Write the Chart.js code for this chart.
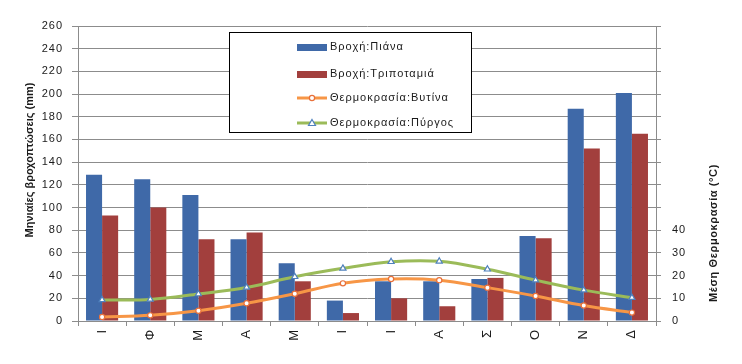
<!DOCTYPE html>
<html>
<head>
<meta charset="utf-8">
<script src="https://cdn.jsdelivr.net/npm/chart.js@4.4.0/dist/chart.umd.min.js"></script>
<style>
    html, body { margin: 0; padding: 0; background: #ffffff; }
    #wrap { width: 742px; height: 364px; position: relative; }
</style>
</head>
<body>
<div id="wrap"><canvas id="climateChart" width="742" height="364"></canvas></div>
<script>
// ==========================================
// DATA
// ==========================================

const monthLabels = ["Ι", "Φ", "Μ", "Α", "Μ", "Ι", "Ι", "Α", "Σ", "Ο", "Ν", "Δ"];

const rainPiana = [129, 125, 111, 72, 51, 18, 35, 35, 37, 75, 187, 201];

const rainTripotamia = [93, 100, 72, 78, 35, 7, 20, 13, 38, 73, 152, 165];

const tempVytina = [1.8, 2.5, 4.5, 7.8, 12.0, 16.6, 18.5, 18.0, 14.7, 11.0, 6.8, 3.7];

const tempPyrgos = [9.3, 9.5, 11.9, 14.8, 19.5, 23.2, 26.1, 26.3, 22.8, 18.0, 13.6, 10.3];

const seriesNames = ["Βροχή:Πιάνα", "Βροχή:Τριποταμιά", "Θερμοκρασία:Βυτίνα", "Θερμοκρασία:Πύργος"];

const FONT = "'Liberation Sans', Arial, sans-serif";

// ==========================================
// LETTER SPACING FOR TICK TEXT
// ==========================================

const spacedText = {

    id: "spacedText",

    beforeLayout(chart) {
        chart.ctx.letterSpacing = "1px";
    },

    beforeDraw(chart) {
        chart.ctx.letterSpacing = "1px";
    }

};

// ==========================================
// LEGEND + AXIS TITLES PLUGIN
// ==========================================

const boxLegend = {

    id: "boxLegend",

    afterDraw(chart) {

        const ctx = chart.ctx;

        ctx.save();

        // legend frame
        ctx.fillStyle = "#ffffff";
        ctx.fillRect(230, 33, 242, 100);
        ctx.strokeStyle = "#000000";
        ctx.lineWidth = 1;
        ctx.strokeRect(229.5, 32.5, 242, 100);

        const rows = [47, 74, 98, 123];

        ctx.font = "11px " + FONT;
        ctx.letterSpacing = "1px";
        ctx.textBaseline = "middle";
        ctx.textAlign = "left";

        chart.data.datasets.forEach(function (ds, i) {

            const y = rows[i];

            if (ds.type === "line") {

                ctx.strokeStyle = ds.borderColor;
                ctx.lineWidth = 3;
                ctx.beginPath();
                ctx.moveTo(297, y);
                ctx.lineTo(327, y);
                ctx.stroke();

                ctx.fillStyle = "#ffffff";
                ctx.strokeStyle = ds.pointBorderColor;
                ctx.lineWidth = 1.2;
                ctx.beginPath();

                if (ds.pointStyle === "triangle") {
                    ctx.moveTo(312, y - 3.5);
                    ctx.lineTo(315.5, y + 2.5);
                    ctx.lineTo(308.5, y + 2.5);
                    ctx.closePath();
                } else {
                    ctx.arc(312, y, 2.6, 0, Math.PI * 2);
                }

                ctx.fill();
                ctx.stroke();

            } else {

                ctx.fillStyle = ds.backgroundColor;
                ctx.fillRect(297, y - 3, 30, 7);

            }

            ctx.fillStyle = "#1a1a1a";
            ctx.fillText(ds.label, 330, y);

        });

        // axis titles
        ctx.font = "bold 11px " + FONT;
        ctx.fillStyle = "#1a1a1a";
        ctx.textAlign = "center";

        ctx.save();
        ctx.letterSpacing = "0px";
        ctx.translate(30, 160);
        ctx.rotate(-Math.PI / 2);
        ctx.fillText("Μηνιαίες βροχοπτώσεις (mm)", 0, 0);
        ctx.restore();

        ctx.save();
        ctx.letterSpacing = "0.6px";
        ctx.translate(714, 233);
        ctx.rotate(-Math.PI / 2);
        ctx.fillText("Μέση Θερμοκρασία (°C)", 0, 0);
        ctx.restore();

        ctx.restore();

    }

};

// ==========================================
// CHART
// ==========================================

const canvas = document.getElementById("climateChart");

new Chart(canvas, {

    type: "bar",

    data: {

        labels: monthLabels,

        datasets: [

            {
                label: seriesNames[0],
                data: rainPiana,
                backgroundColor: "#3F69A8",
                yAxisID: "y",
                order: 2,
                categoryPercentage: 0.667,
                barPercentage: 1.0,
            },

            {
                label: seriesNames[1],
                data: rainTripotamia,
                backgroundColor: "#A23F3D",
                yAxisID: "y",
                order: 2,
                categoryPercentage: 0.667,
                barPercentage: 1.0,
            },

            {
                type: "line",
                label: seriesNames[2],
                data: tempVytina,
                borderColor: "#F79646",
                borderWidth: 3,
                tension: 0.35,
                pointStyle: "circle",
                pointRadius: 2.6,
                pointBackgroundColor: "#ffffff",
                pointBorderColor: "#E8703A",
                pointBorderWidth: 1.2,
                yAxisID: "y1",
                order: 1,
            },

            {
                type: "line",
                label: seriesNames[3],
                data: tempPyrgos,
                borderColor: "#9BBB59",
                borderWidth: 3,
                tension: 0.35,
                pointStyle: "triangle",
                pointRadius: 3.5,
                pointBackgroundColor: "#ffffff",
                pointBorderColor: "#4F81BD",
                pointBorderWidth: 1.2,
                yAxisID: "y1",
                order: 0,
            }

        ]

    },

    options: {

        responsive: false,

        animation: false,

        layout: {
            padding: { top: 26, left: 0, right: 0, bottom: 0 }
        },

        plugins: {
            legend: { display: false },
            tooltip: { enabled: false },
        },

        scales: {

            x: {
                afterFit: function (scale) { scale.height = 43; },
                grid: {
                    offset: true,
                    drawOnChartArea: false,
                    tickLength: 5,
                    color: "#8c8c8c",
                },
                border: { color: "#8c8c8c" },
                ticks: {
                    minRotation: 90,
                    maxRotation: 90,
                    padding: 3,
                    color: "#1a1a1a",
                    font: { family: FONT, size: 13 },
                }
            },

            y: {
                position: "left",
                min: 0,
                max: 260,
                afterFit: function (scale) { scale.width = 78; },
                ticks: {
                    stepSize: 20,
                    padding: 9,
                    color: "#1a1a1a",
                    font: { family: FONT, size: 11 },
                },
                grid: {
                    color: "#8c8c8c",
                    tickLength: 6,
                },
                border: { color: "#8c8c8c" },
            },

            y1: {
                position: "right",
                min: 0,
                max: 130,
                afterFit: function (scale) { scale.width = 86; },
                ticks: {
                    stepSize: 10,
                    padding: 11,
                    color: "#1a1a1a",
                    font: { family: FONT, size: 11 },
                    callback: function (value) {
                        return value <= 40 ? value : "";
                    }
                },
                grid: {
                    drawOnChartArea: false,
                    color: "#8c8c8c",
                    tickLength: 5,
                },
                border: { color: "#8c8c8c" },
            }

        }

    },

    plugins: [spacedText, boxLegend]

});
</script>
</body>
</html>
